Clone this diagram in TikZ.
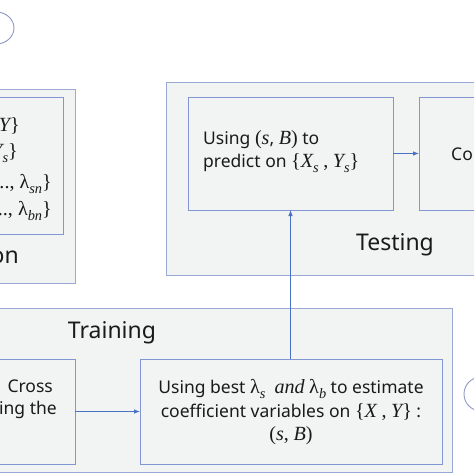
\documentclass[tikz,border=0pt]{standalone}
\usepackage{fontspec}
\setmainfont{Noto Sans}
\newfontfamily\mfont[Scale=1.15]{Liberation Serif}
\usetikzlibrary{arrows.meta,shapes.geometric}
\definecolor{boxfill}{HTML}{F2F4F4}
\definecolor{outerline}{HTML}{9AA8D6}
\definecolor{innerline}{HTML}{8296D2}
\definecolor{arrowc}{HTML}{4A72C4}
\definecolor{circc}{HTML}{8F98C4}
\definecolor{txt}{HTML}{1A1A1A}
\newcommand\mi[1]{{\mfont\itshape #1}}
\newcommand\mup[1]{{\mfont #1}}
\newcommand\sbs[1]{\raisebox{-0.45ex}{\fontsize{12.5}{12.5}\selectfont\mfont\itshape #1}}
\begin{document}
\begin{tikzpicture}[x=1pt,y=-1pt,
  outerbox/.style={draw=outerline, fill=boxfill, line width=1pt, anchor=north west, inner sep=0pt, outer sep=0pt},
  innerbox/.style={draw=innerline, fill=boxfill, line width=0.9pt, anchor=north west, inner sep=0pt, outer sep=0pt},
  title/.style={font=\fontsize{23}{23}\selectfont, text=txt, inner sep=0pt},
  body/.style={font=\fontsize{17.5}{22}\selectfont, text=txt, inner sep=0pt},
  flow/.style={draw=arrowc, line width=0.8pt, -{Latex[length=6pt,width=4.5pt]}},
  circ/.style={ellipse, draw=circc, line width=0.9pt, inner sep=0pt}
]
\useasboundingbox (0,0) rectangle (474,474);
\clip (0,0) rectangle (474,474);
\fill[white] (0,0) rectangle (474,474);

% circles
\node[circ, minimum width=36pt, minimum height=32pt] (c1) at (-4,28) {};
\node[circ, minimum width=34pt, minimum height=34pt] (c2) at (481,394) {};

% left (optimization) block
\node[outerbox, minimum width=95pt, minimum height=194pt] (optout) at (-20,89) {};
\node[innerbox, minimum width=83pt, minimum height=137pt] (optin) at (-20,97) {};
\node[body, anchor=east] (l1) at (20,126) {\mi{Y}\mup{\}}};
\node[body, anchor=east] (l2) at (18,153) {\mi{Y}\sbs{s}\mup{\}}};
\node[body, anchor=east] (l3) at (52,184) {\mup{..., λ}\sbs{sn}\mup{\}}};
\node[body, anchor=east] (l4) at (52,211) {\mup{..., λ}\sbs{bn}\mup{\}}};
\node[title, anchor=east] (opttitle) at (19,257) {on};

% testing block
\node[outerbox, minimum width=330pt, minimum height=193pt] (testout) at (166,82) {};
\node[innerbox, minimum width=205pt, minimum height=113pt] (T1) at (188,97) {};
\node[innerbox, minimum width=90pt, minimum height=113pt] (T2) at (419,97) {};
\node[body, anchor=west] (t1a) at (203,140) {Using \mup{(}\mi{s}, \mi{B}\mup{)} to};
\node[body, anchor=west] (t1b) at (203,163) {predict on \mup{\{}\mi{X}\sbs{s} \mup{,} \mi{Y}\sbs{s}\mup{\}}};
\node[body, anchor=west] (t2a) at (451,154) {Co};
\node[title] (testtitle) at (395,245) {Testing};

% training block
\node[outerbox, minimum width=472pt, minimum height=164pt] (trainout) at (-20,308) {};
\node[innerbox, minimum width=95pt, minimum height=105pt] (R1) at (-20,359) {};
\node[innerbox, minimum width=302pt, minimum height=105pt] (R2) at (140,359) {};
\node[title] (traintitle) at (112,333) {Training};
\node[body, anchor=east] (r1a) at (53,386) {Cross};
\node[body, anchor=east] (r1b) at (57,410) {ing the};
\node[body] (r2a) at (291,389) {Using best \mup{λ}\sbs{s}\ \ \mi{and} \mup{λ}\sbs{b} to estimate};
\node[body] (r2b) at (291,412) {coefficient variables on \mup{\{}\mi{X} \mup{,} \mi{Y}\mup{\}} :};
\node[body] (r2c) at (291,436) {\mup{(}\mi{s}\mup{,} \mi{B}\mup{)}};

% connectors
\draw[flow] (T1.east) -- (T2.west);
\draw[flow] (R1.east) -- (R2.west);
\draw[flow] (T1.south |- R2.north) -- (T1.south);
\end{tikzpicture}
\end{document}
